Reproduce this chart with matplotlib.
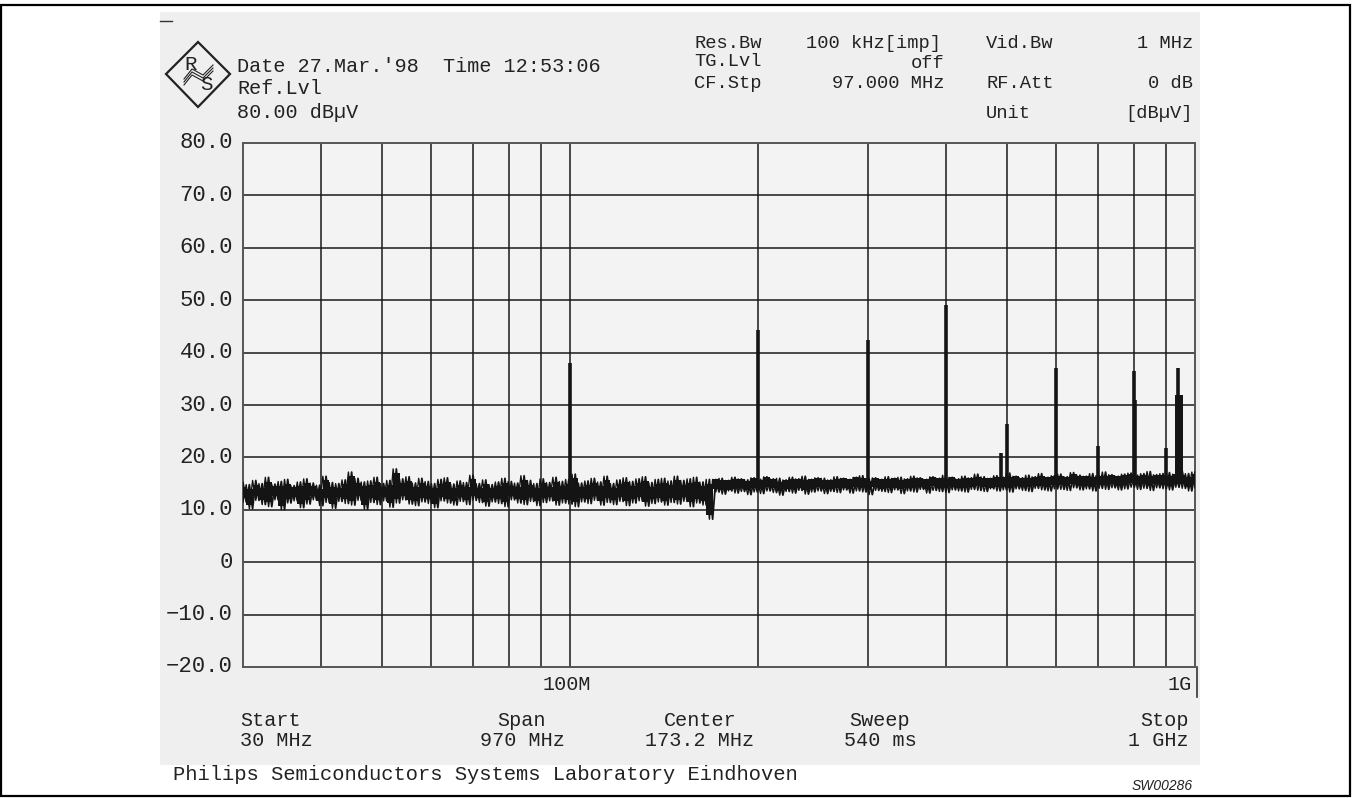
import numpy as np
import matplotlib
matplotlib.use("Agg")
import matplotlib.pyplot as plt
from matplotlib.patches import Rectangle, Polygon

W, H = 1353, 798

# noise floor of the trace (dBuV), on a log grid 30 MHz .. 1 GHz
noise_hi = [
    15.2, 14.8, 15.6, 15.0, 16.2, 14.9, 15.4, 15.8, 14.6, 15.3,
    15.9, 15.1, 14.7, 16.4, 15.2, 15.0, 15.7, 17.2, 16.0, 15.3,
    15.5, 16.2, 15.0, 15.6, 17.8, 15.9, 16.3, 15.1, 16.0, 15.4,
    15.0, 15.8, 16.1, 14.9, 15.5, 15.2, 16.6, 15.0, 15.7, 14.8,
    15.3, 16.0, 15.4, 15.1, 16.5, 15.6, 15.0, 15.9, 15.2, 16.2,
    15.4, 15.8, 16.8, 15.1, 15.5, 16.0, 15.3, 16.4, 15.0, 15.7,
    16.1, 15.4, 15.9, 16.3, 15.2, 15.8, 16.0, 15.5, 16.4, 15.6,
    15.9, 16.2, 15.3, 15.8,
    15.8, 16.0, 15.6, 16.2, 15.9, 15.7, 16.1, 15.8, 16.3, 15.9,
    16.0, 15.7, 16.2, 15.9, 16.4, 15.8, 16.1, 16.0, 15.7, 16.3,
    16.0, 15.8, 16.2, 16.5, 15.9, 16.1, 15.8, 16.3, 16.0, 16.2,
    15.9, 16.4, 16.1, 15.8, 16.3, 16.0, 16.6, 16.2, 15.9, 16.4,
    16.1, 16.8, 16.3, 16.0, 16.5, 16.2, 17.0, 16.4, 16.1, 16.6,
    16.3, 16.9, 16.2, 16.5, 16.8, 16.3, 17.1, 16.6, 16.4, 16.9,
    16.5, 17.2, 16.7, 16.4, 16.8, 17.0, 16.6, 16.9, 17.3, 16.7,
    16.9, 17.1, 16.8, 17.4, 16.9, 17.2,
]
noise_lo = [
    11.5, 10.2, 11.8, 11.0, 10.6, 11.9, 10.0, 11.3, 11.7, 10.4,
    11.1, 11.9, 10.8, 11.4, 10.3, 11.6, 11.2, 10.9, 11.8, 10.1,
    11.4, 11.0, 11.7, 10.5, 11.3, 11.9, 11.1, 10.8, 11.5, 11.2,
    10.4, 11.7, 11.3, 10.9, 11.6, 11.0, 11.8, 11.4, 10.7, 11.5,
    11.2, 10.6, 11.9, 11.3, 11.0, 11.6, 10.8, 11.4, 11.7, 10.9,
    11.3, 11.1, 10.6, 11.5, 11.2, 11.8, 10.9, 11.4, 11.0, 11.6,
    10.8, 11.3, 11.7, 10.7, 11.2, 11.5, 10.9, 11.4, 11.1, 11.6,
    10.6, 11.3, 10.9, 8.2,
    13.4, 13.0, 13.6, 13.2, 13.5, 12.9, 13.4, 13.1, 13.6, 13.3,
    12.8, 13.5, 13.2, 13.7, 13.0, 13.4, 13.6, 13.1, 13.5, 13.3,
    13.8, 13.2, 13.6, 13.4, 12.9, 13.7, 13.5, 13.3, 13.8, 13.1,
    13.6, 13.4, 13.9, 13.2, 13.7, 13.5, 13.3, 13.8, 13.6, 13.4,
    13.9, 13.7, 13.5, 14.0, 13.6, 13.8, 13.4, 14.0, 13.7, 13.5,
    14.1, 13.8, 13.6, 14.0, 13.9, 13.7, 14.2, 13.8, 14.0, 13.6,
    14.1, 13.9, 14.2, 13.8, 14.0, 14.3, 13.9, 14.1, 13.7, 14.2,
    14.0, 13.8, 14.3, 14.1, 13.6, 14.2,
]

# discrete carriers (MHz, dBuV)
peak_freq = [100, 200, 300, 400, 490, 500, 600, 700, 800, 803, 900, 940]
peak_level = [38.0, 44.3, 42.4, 49.0, 20.8, 26.4, 37.1, 22.2, 36.5, 31.0, 21.8, 37.1]
block_freq = [930, 958]
block_level = 32.0

y_ticks = [80, 70, 60, 50, 40, 30, 20, 10, 0, -10, -20]
y_labels = ["80.0", "70.0", "60.0", "50.0", "40.0", "30.0", "20.0", "10.0", "0",
            "\u221210.0", "\u221220.0"]
grid_freq = [40, 50, 60, 70, 80, 90, 100, 200, 300, 400, 500, 600, 700, 800, 900]

FONT = ["Liberation Mono", "DejaVu Sans Mono"]


def fx(x):
    return x / W


def fy(y):
    return 1 - y / H


def label(x, y, s, ha="left", size=14.5, **kw):
    fig.text(fx(x), fy(y), s, ha=ha, va="center", fontsize=size,
             family=FONT, color="#222222", **kw)


fig = plt.figure(figsize=(W / 100, H / 100), dpi=100)
fig.patch.set_facecolor("white")

# scanned screen background
fig.patches.append(Rectangle((fx(160), fy(765)), fx(1200) - fx(160), fy(12) - fy(765),
                             transform=fig.transFigure, facecolor="#efefef",
                             edgecolor="none", zorder=-5))
# outer frame
fig.patches.append(Rectangle((0.001, 0.002), 0.997, fy(5) - 0.002, transform=fig.transFigure,
                             facecolor="none", edgecolor="black", lw=1.6, zorder=5))

ax = fig.add_axes([fx(243), fy(667), fx(1195) - fx(243), fy(143) - fy(667)])
ax.set_facecolor("#f3f3f3")
ax.set_xscale("log")
ax.set_xlim(30, 1000)
ax.set_ylim(-20, 80)

for f in grid_freq:
    ax.axvline(f, color="#1a1a1a", lw=1.1, zorder=1)
for v in y_ticks[1:-1]:
    ax.axhline(v, color="#1a1a1a", lw=1.1, zorder=1)

for s in ax.spines.values():
    s.set_color("#555555")
    s.set_linewidth(1.4)

ax.set_xticks([])
ax.set_xticks([], minor=True)
ax.set_yticks([])

# trace: dense core plus zigzags between the upper and lower excursions
freq = np.geomspace(30, 1000, len(noise_hi))
hi = np.array(noise_hi)
lo = np.array(noise_lo)
core_lo = np.minimum(lo + 0.8, hi - 1.8)
core_hi = np.maximum(hi - 0.8, core_lo + 1.8)
ax.fill_between(freq, core_lo, core_hi, step="mid", color="#141414", lw=0, zorder=3)

n = len(freq)
mid = np.sqrt(freq[:-1] * freq[1:])
zx = np.empty(2 * n - 1)
zx[0::2] = freq
zx[1::2] = mid
zy1 = np.empty(2 * n - 1)
zy1[0::2] = hi
zy1[1::2] = lo[:-1]
zy2 = np.empty(2 * n - 1)
zy2[0::2] = lo
zy2[1::2] = hi[1:]
ax.plot(zx, zy1, color="#141414", lw=1.3, zorder=3)
ax.plot(zx, zy2, color="#141414", lw=1.0, zorder=3)

ax.vlines(peak_freq, 15, peak_level, color="#141414", lw=2.6, zorder=3)
ax.fill_between(block_freq, 15, block_level, color="#141414", lw=0, zorder=3)

# y labels
for v, s in zip(y_ticks, y_labels):
    label(233, 143 + (80 - v) * 5.24, s, ha="right", size=16)

# x labels
label(567, 684, "100M", ha="center")
label(1192, 684, "1G", ha="right")
fig.add_artist(plt.Line2D([fx(1197), fx(1197)], [fy(667), fy(697)], color="#333333", lw=1.2))

# header: logo
logo = Polygon([(fx(166), fy(74)), (fx(198), fy(42)), (fx(230), fy(74)), (fx(198), fy(107))],
               closed=True, transform=fig.transFigure, facecolor="none",
               edgecolor="#222222", lw=1.6)
fig.patches.append(logo)
label(191, 64, "R", ha="center", size=15)
label(206, 85, "S", ha="center", size=15)
for dy in (-3, 0, 3):
    fig.add_artist(plt.Line2D([fx(184), fx(192), fx(203), fx(213)],
                              [fy(82 + dy), fy(72 + dy), fy(78 + dy), fy(68 + dy)],
                              color="#222222", lw=0.8))

label(237, 67, "Date 27.Mar.'98")
label(443, 67, "Time 12:53:06")
label(237, 89, "Ref.Lvl")
label(237, 113, "80.00 dB\u00b5V")

label(694, 43, "Res.Bw", size=13.5)
label(806, 43, "100 kHz[imp]", size=13.5)
label(986, 43, "Vid.Bw", size=13.5)
label(1193, 43, "1 MHz", ha="right", size=13.5)
label(694, 61, "TG.Lvl", size=13.5)
label(945, 63, "off", ha="right", size=13.5)
label(694, 84, "CF.Stp", size=13.5)
label(945, 84, "97.000 MHz", ha="right", size=13.5)
label(986, 84, "RF.Att", size=13.5)
label(1193, 84, "0 dB", ha="right", size=13.5)
label(986, 113, "Unit", size=13.5)
label(1193, 113, "[dB\u00b5V]", ha="right", size=13.5)

# footer
label(240, 721, "Start")
label(240, 740, "30 MHz")
label(522, 721, "Span", ha="center")
label(522, 740, "970 MHz", ha="center")
label(700, 721, "Center", ha="center")
label(700, 740, "173.2 MHz", ha="center")
label(880, 721, "Sweep", ha="center")
label(880, 740, "540 ms", ha="center")
label(1189, 721, "Stop", ha="right")
label(1189, 740, "1 GHz", ha="right")
label(173, 774, "Philips Semiconductors Systems Laboratory Eindhoven", size=14.8)
fig.text(fx(1193), fy(786), "SW00286", ha="right", va="center", fontsize=10,
         style="italic", family=["Liberation Sans", "DejaVu Sans"], color="#222222")

fig.add_artist(plt.Line2D([fx(160), fx(172)], [fy(21), fy(21)], color="#333333", lw=1.0))

fig.savefig("out.png", dpi=100)
